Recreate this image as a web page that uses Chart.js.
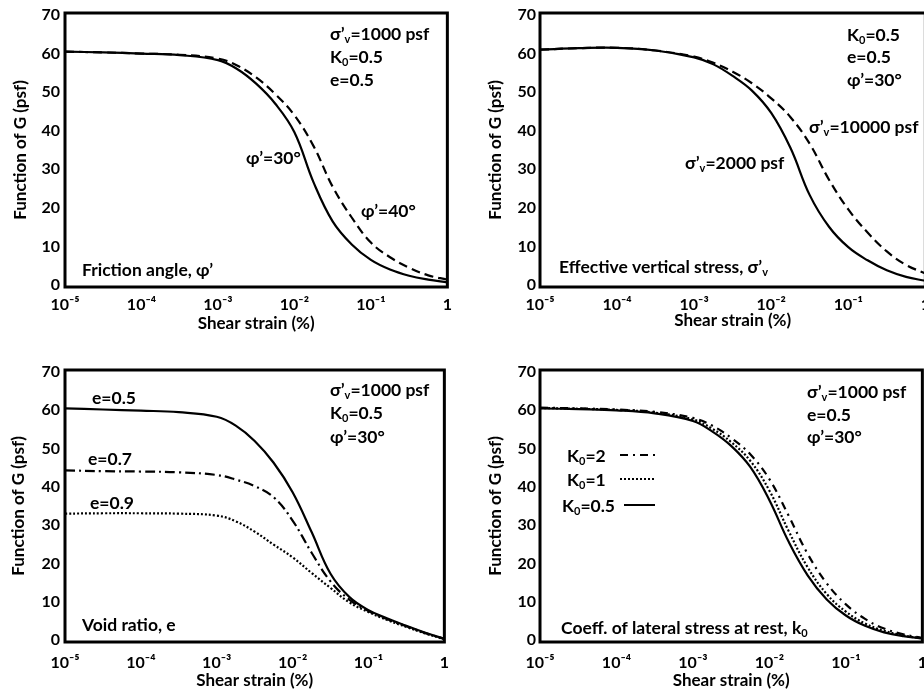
<!DOCTYPE html>
<html><head><meta charset="utf-8">
<script src="https://cdn.jsdelivr.net/npm/chart.js@4.4.1/dist/chart.umd.min.js"></script>
<style>
html,body{margin:0;padding:0;background:#fff;}
#wrap{position:relative;width:924px;height:691px;overflow:hidden;background:#fff;}
canvas{position:absolute;}
</style></head><body>
<div id="wrap">
<canvas id="c1" width="462" height="345" style="left:0;top:0"></canvas>
<canvas id="c2" width="478" height="345" style="left:462px;top:0"></canvas>
<canvas id="c3" width="462" height="346" style="left:0;top:345px"></canvas>
<canvas id="c4" width="478" height="346" style="left:462px;top:345px"></canvas>
</div>
<script>
// ---- data ----
const STRAIN = [1e-5, 3.16e-5, 1e-4, 3.16e-4, 1e-3, 1.78e-3, 3.16e-3, 5.62e-3, 1e-2, 1.78e-2, 3.16e-2, 5.62e-2, 0.1, 0.178, 0.316, 0.562, 1];
const X_TICKS = [1e-5, 1e-4, 1e-3, 1e-2, 1e-1, 1];
const X_TICK_LABELS = ['10⁻⁵', '10⁻⁴', '10⁻³', '10⁻²', '10⁻¹', '1'];
const Y_TICKS = [0, 10, 20, 30, 40, 50, 60, 70];

// Panel 1: friction angle
const PHI30 = [60.5, 60.3, 60.0, 59.6, 58.3, 56.0, 52.2, 47.0, 39.6, 26.6, 16.5, 10.5, 6.5, 4.0, 2.4, 1.4, 0.7];
const PHI40 = [60.5, 60.3, 60.0, 59.7, 58.7, 56.9, 53.8, 49.5, 44.0, 36.0, 25.5, 17.5, 11.0, 7.2, 4.5, 2.5, 1.4];
// Panel 2: effective vertical stress
const SV2000 = [61.0, 61.4, 61.5, 60.8, 59.0, 57.2, 54.2, 50.4, 44.6, 35.5, 23.3, 15.1, 9.8, 6.4, 3.8, 2.1, 1.1];
const SV10000 = [61.0, 61.4, 61.5, 60.8, 59.2, 57.6, 55.3, 52.3, 48.4, 43.5, 36.6, 27.3, 19.6, 13.6, 8.7, 5.2, 3.0];
// Panel 3: void ratio
const E05 = [60.5, 60.2, 59.9, 59.5, 58.3, 56.0, 52.0, 46.3, 38.6, 28.2, 17.3, 11.2, 7.8, 5.6, 3.7, 1.9, 0.3];
const E07 = [44.3, 44.1, 44.0, 43.8, 43.1, 41.9, 40.2, 37.3, 31.2, 22.8, 15.3, 10.5, 7.6, 5.4, 3.6, 1.8, 0.3];
const E09 = [33.0, 33.1, 33.1, 33.0, 32.5, 31.0, 28.3, 24.9, 21.6, 17.5, 13.6, 9.8, 7.3, 5.2, 3.4, 1.7, 0.2];
// Panel 4: K0
const K2 = [60.7, 60.5, 60.2, 59.6, 58.0, 56.0, 52.8, 48.5, 42.0, 32.5, 22.5, 14.8, 9.3, 5.5, 3.0, 1.5, 0.5];
const K1 = [60.6, 60.4, 60.1, 59.4, 57.6, 55.2, 51.7, 46.8, 39.0, 28.5, 19.0, 12.0, 7.4, 4.3, 2.4, 1.2, 0.4];
const K05 = [60.5, 60.3, 60.0, 59.2, 57.2, 54.5, 50.7, 45.2, 36.5, 25.7, 16.9, 10.6, 6.4, 3.7, 2.0, 1.0, 0.4];

const X_TITLE = 'Shear strain (%)';
const Y_TITLE = 'Function of G (psf)';

// ---- styling ----
const FONT = "Lato, 'DejaVu Sans', sans-serif";
const DASH = [9, 5], DASHDOT = [10, 4, 2, 4], DOT = [2, 2], DASHDOT2 = [8, 5, 2, 5];

function drawRich(ctx, text, x, y, size) {
  const parts = []; const re = /_(.)/g; let last = 0, m;
  while ((m = re.exec(text))) {
    if (m.index > last) parts.push({t: text.slice(last, m.index), sub: false});
    parts.push({t: m[1], sub: true}); last = re.lastIndex;
  }
  if (last < text.length) parts.push({t: text.slice(last), sub: false});
  const fMain = `bold ${size}px ${FONT}`, fSub = `bold ${Math.round(size * 0.62)}px ${FONT}`;
  ctx.save();
  ctx.textBaseline = 'middle'; ctx.textAlign = 'left'; ctx.fillStyle = '#000';
  let cx = x;
  parts.forEach(p => {
    ctx.font = p.sub ? fSub : fMain;
    ctx.fillText(p.t, cx, p.sub ? y + size * 0.3 : y);
    cx += ctx.measureText(p.t).width;
  });
  ctx.restore();
}

function makeChart(id, o) {
  const deco = {
    id: 'deco',
    afterDraw(chart) {
      const {ctx, chartArea: a} = chart;
      ctx.save();
      ctx.strokeStyle = '#000'; ctx.lineWidth = 3;
      ctx.strokeRect(a.left, a.top - 2, a.right - a.left, a.bottom - a.top + 4);
      ctx.restore();
      (o.notes || []).forEach(n => drawRich(ctx, n.t, a.left + n.x, a.top + n.y, 17.5));
      (o.legend || []).forEach(l => {
        const ds = chart.data.datasets[l.ds];
        drawRich(ctx, ds.label, a.left + l.tx, a.top + l.y, 17.5);
        ctx.save();
        ctx.strokeStyle = '#000'; ctx.lineWidth = 2;
        ctx.setLineDash(ds.borderDash || []);
        ctx.beginPath();
        ctx.moveTo(a.left + l.x0, a.top + l.y - 1);
        ctx.lineTo(a.left + l.x1, a.top + l.y - 1);
        ctx.stroke();
        ctx.restore();
      });
    }
  };
  return new Chart(document.getElementById(id), {
    type: 'line',
    data: {
      datasets: o.series.map(s => ({
        label: s.label,
        data: STRAIN.map((x, i) => ({x: x, y: s.values[i]})),
        borderColor: '#000', borderWidth: 2.2, borderDash: s.dash || [],
        pointRadius: 0, fill: false, tension: 0.4
      }))
    },
    options: {
      responsive: false, animation: false, events: [],
      layout: {padding: {top: o.top, right: o.right, left: 0, bottom: 0}},
      plugins: {legend: {display: false}, tooltip: {enabled: false}},
      scales: {
        x: {
          type: 'logarithmic', min: 1e-5, max: 1,
          afterBuildTicks: s => { s.ticks = X_TICKS.map(v => ({value: v})); },
          afterFit: s => { s.height = o.xH; },
          grid: {display: false, drawTicks: false}, border: {display: false},
          ticks: {autoSkip: false, maxRotation: 0, padding: o.xTickPad, color: '#000',
                  font: {family: FONT, weight: 'bold', size: 16},
                  callback: (v, i) => X_TICK_LABELS[i]},
          title: {display: true, text: X_TITLE, color: '#000',
                  font: {family: FONT, weight: 'bold', size: 17},
                  padding: {top: 0, bottom: o.xTitlePad}}
        },
        y: {
          min: 0, max: 70,
          afterBuildTicks: s => { s.ticks = Y_TICKS.map(v => ({value: v})); },
          afterFit: s => { s.width = o.yW; },
          grid: {display: false, drawTicks: false}, border: {display: false},
          ticks: {padding: o.yTickPad, color: '#000', font: {family: FONT, weight: 'bold', size: 16}},
          title: {display: true, text: Y_TITLE, color: '#000',
                  font: {family: FONT, weight: 'bold', size: 17},
                  padding: {top: o.yTitlePad, bottom: 0}}
        }
      }
    },
    plugins: [deco]
  });
}

makeChart('c1', {
  top: 15, right: 11, yW: 65, xH: 60, xTickPad: 10, xTitlePad: 11, yTickPad: 5, yTitlePad: 10,
  series: [
    {label: 'φ’=30°', values: PHI30},
    {label: 'φ’=40°', values: PHI40, dash: DASH}
  ],
  notes: [
    {t: 'σ’_v=1000 psf', x: 265, y: 19}, {t: 'K_0=0.5', x: 265, y: 42}, {t: 'e=0.5', x: 265, y: 65},
    {t: 'φ’=30°', x: 181, y: 143}, {t: 'φ’=40°', x: 296, y: 196},
    {t: 'Friction angle, φ’', x: 17, y: 255}
  ]
});

makeChart('c2', {
  top: 15, right: 14, yW: 78, xH: 60, xTickPad: 10, xTitlePad: 14, yTickPad: 4, yTitlePad: 23,
  series: [
    {label: 'σ’_v=2000 psf', values: SV2000},
    {label: 'σ’_v=10000 psf', values: SV10000, dash: DASH}
  ],
  notes: [
    {t: 'K_0=0.5', x: 307, y: 20}, {t: 'e=0.5', x: 307, y: 42}, {t: 'φ’=30°', x: 307, y: 65},
    {t: 'σ’_v=10000 psf', x: 269, y: 112}, {t: 'σ’_v=2000 psf', x: 145, y: 148},
    {t: 'Effective vertical stress, σ’_v', x: 19, y: 252}
  ]
});

makeChart('c3', {
  top: 27, right: 11, yW: 65, xH: 51, xTickPad: 13, xTitlePad: 0, yTickPad: 5, yTitlePad: 8,
  series: [
    {label: 'e=0.5', values: E05},
    {label: 'e=0.7', values: E07, dash: DASHDOT},
    {label: 'e=0.9', values: E09, dash: DOT}
  ],
  notes: [
    {t: 'σ’_v=1000 psf', x: 265, y: 18}, {t: 'K_0=0.5', x: 265, y: 41}, {t: 'φ’=30°', x: 265, y: 65},
    {t: 'e=0.5', x: 27, y: 26}, {t: 'e=0.7', x: 23, y: 87}, {t: 'e=0.9', x: 25, y: 131},
    {t: 'Void ratio, e', x: 17, y: 253}
  ]
});

makeChart('c4', {
  top: 27, right: 14, yW: 78, xH: 51, xTickPad: 13, xTitlePad: 0, yTickPad: 4, yTitlePad: 23,
  series: [
    {label: 'K_0=2', values: K2, dash: DASHDOT2},
    {label: 'K_0=1', values: K1, dash: DOT},
    {label: 'K_0=0.5', values: K05}
  ],
  notes: [
    {t: 'σ’_v=1000 psf', x: 267, y: 20}, {t: 'e=0.5', x: 267, y: 43}, {t: 'φ’=30°', x: 267, y: 65},
    {t: 'Coeff. of lateral stress at rest, k_0', x: 21, y: 256}
  ],
  legend: [
    {ds: 0, tx: 27, x0: 80, x1: 115, y: 84},
    {ds: 1, tx: 27, x0: 80, x1: 115, y: 108},
    {ds: 2, tx: 22, x0: 84, x1: 115, y: 134}
  ]
});
</script>
</body></html>
